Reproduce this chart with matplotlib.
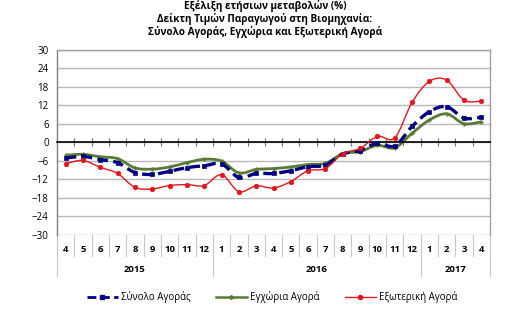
import numpy as np
import matplotlib
matplotlib.use("Agg")
import matplotlib.pyplot as plt
from matplotlib.path import Path
from matplotlib.patches import PathPatch
from matplotlib.lines import Line2D
import matplotlib.transforms as mtransforms

plt.rcParams['font.family'] = ['Open Sans', 'DejaVu Sans']

months = ['4', '5', '6', '7', '8', '9', '10', '11', '12',
          '1', '2', '3', '4', '5', '6', '7', '8', '9', '10', '11', '12',
          '1', '2', '3', '4']
years = ['2015', '2016', '2017']
year_counts = [9, 12, 4]

total = [-5.1, -4.6, -5.6, -6.6, -9.8, -10.4, -9.4, -8.2, -7.6, -7.0, -11.4, -10.1,
         -10.1, -9.2, -7.9, -7.4, -3.8, -2.7, -0.3, -1.2, 5.1, 9.9, 11.5, 7.8, 8.1]
domestic = [-4.2, -3.9, -4.7, -5.3, -8.3, -8.7, -8.0, -6.6, -5.5, -6.1, -9.9, -8.8,
            -8.5, -8.0, -7.2, -6.8, -3.7, -3.0, -1.0, -1.8, 2.9, 7.2, 9.2, 6.0, 6.6]
foreign = [-6.9, -5.9, -8.1, -10.1, -14.6, -15.1, -14.0, -13.7, -14.0, -10.5, -16.0, -14.1,
           -14.8, -12.7, -9.2, -8.5, -3.7, -2.0, 1.9, 1.4, 12.9, 19.7, 20.1, 13.6, 13.3]

names = ['Σύνολο Αγοράς', 'Εγχώρια Αγορά', 'Εξωτερική Αγορά']
title = ('Εξέλιξη ετήσιων μεταβολών (%)\n'
         'Δείκτη Τιμών Παραγωγού στη Βιομηχανία:\n'
         'Σύνολο Αγοράς, Εγχώρια και Εξωτερική Αγορά')

fig = plt.figure(figsize=(5.30, 3.22), dpi=100)
ax = fig.add_axes([57/530, 1-235/322, (490-57)/530, (235-49.5)/322])

n = len(months)
x = np.arange(n)


def smooth_path(xs, ys, t=1/6):
    xs = np.asarray(xs, float); ys = np.asarray(ys, float)
    pts = np.column_stack([xs, ys])
    verts = [pts[0]]
    codes = [Path.MOVETO]
    for i in range(len(pts)-1):
        p0 = pts[i-1] if i > 0 else pts[i]
        p1 = pts[i]
        p2 = pts[i+1]
        p3 = pts[i+2] if i+2 < len(pts) else pts[i+1]
        c1 = p1 + (p2 - p0) * t
        c2 = p2 - (p3 - p1) * t
        verts += [c1, c2, p2]
        codes += [Path.CURVE4]*3
    return Path(verts, codes)


blue = '#000080'
green = '#5a7a35'
red = '#e3161b'

series = [
    (total, blue, 2.4, (0, (3.2, 1.6)), 's', 3.0, 3),
    (domestic, green, 2.0, '-', 'P', 2.6, 2),
    (foreign, red, 1.0, '-', 'o', 3.3, 4),
]
for ys, c, lw, ls, mk, ms, z in series:
    ax.add_patch(PathPatch(smooth_path(x, ys), fill=False, edgecolor=c, lw=lw,
                           linestyle=ls, zorder=z, capstyle='butt'))
    ax.plot(x, ys, linestyle='none', marker=mk, color=c, ms=ms, zorder=z,
            markeredgewidth=0.5 if mk != 'P' else 0.3)

ax.set_xlim(-0.5, n-0.5)
ax.set_ylim(-30, 30)
ax.set_yticks(np.arange(-30, 31, 6))
ax.yaxis.grid(True, color='#b8b8b8', lw=1.0)
ax.set_axisbelow(True)
ax.tick_params(axis='y', length=0, labelsize=7, pad=6, colors='black')

for s in ['top', 'right']:
    ax.spines[s].set_color('#a0a0a0')
    ax.spines[s].set_linewidth(1.0)
ax.spines['left'].set_color('#808080')
ax.spines['left'].set_linewidth(1.0)
ax.spines['bottom'].set_position(('data', 0))
ax.spines['bottom'].set_color('black')
ax.spines['bottom'].set_linewidth(1.2)
ax.set_xticks(np.arange(-0.5, n, 1.0))
ax.set_xticklabels([])
ax.tick_params(axis='x', direction='inout', length=6, width=0.8, color='#707070')

trans = mtransforms.blended_transform_factory(ax.transData, fig.transFigure)
y_month = 1 - 249/322
y_year = 1 - 269/322
for i, m in enumerate(months):
    ax.text(i, y_month, m, transform=trans, ha='center', va='center',
            fontsize=6.8, fontweight='bold')
# separators
yb = 1 - 235/322
ym = 1 - 256/322
yy = 1 - 276/322
for i in range(n+1):
    ax.plot([i-0.5, i-0.5], [yb, ym], transform=trans, color='#c8c8c8', lw=0.8, clip_on=False)
start = 0
bounds = [0]
for cnt in year_counts:
    start += cnt
    bounds.append(start)
for b in bounds:
    ax.plot([b-0.5, b-0.5], [yb, yy], transform=trans, color='#c8c8c8', lw=0.8, clip_on=False)
for k, yr in enumerate(years):
    cx = (bounds[k] + bounds[k+1] - 1) / 2
    ax.text(cx, y_year, yr, transform=trans, ha='center', va='center',
            fontsize=6.8, fontweight='bold')

fig.text(265/530, 1-19/322, title, ha='center', va='center', fontsize=7.2,
         fontweight='bold', linespacing=1.1)

handles = [
    Line2D([], [], color=blue, lw=2.0, linestyle=(0, (3.2, 1.6)), marker='s', ms=3),
    Line2D([], [], color=green, lw=1.8, marker='P', ms=2.5),
    Line2D([], [], color=red, lw=1.0, marker='o', ms=3),
]
fig.legend(handles, names, loc='center', bbox_to_anchor=(272/530, 1-297/322), ncol=3,
           frameon=False, fontsize=7, handlelength=3.2, columnspacing=2.6,
           handletextpad=0.3)

fig.savefig('out.png', dpi=100)
